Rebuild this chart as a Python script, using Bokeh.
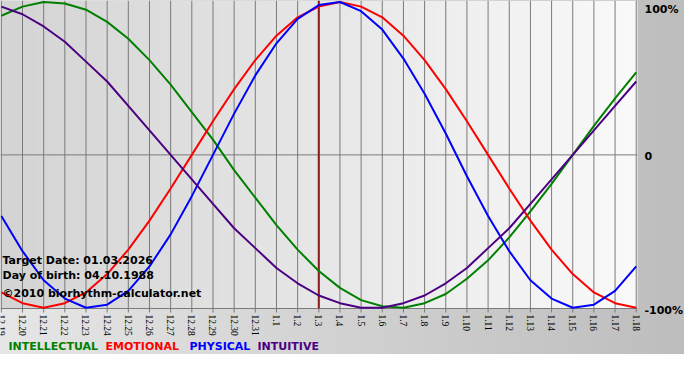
import math
import numpy as np
from bokeh.plotting import figure
from bokeh.models import Label, LabelSet, Range1d, ColumnDataSource
from bokeh.embed import file_html
from bokeh.resources import INLINE

# ---- data ----
day_labels = ["12.19", "12.20", "12.21", "12.22", "12.23", "12.24", "12.25", "12.26",
              "12.27", "12.28", "12.29", "12.30", "12.31", "1.1", "1.2", "1.3", "1.4",
              "1.5", "1.6", "1.7", "1.8", "1.9", "1.10", "1.11", "1.12", "1.13", "1.14",
              "1.15", "1.16", "1.17", "1.18"]

intellectual = [0.91, 0.97, 1.00, 0.99, 0.95, 0.87, 0.76, 0.62, 0.46, 0.28, 0.10,
                -0.10, -0.28, -0.46, -0.62, -0.76, -0.87, -0.95, -0.99, -1.00, -0.97,
                -0.91, -0.81, -0.69, -0.54, -0.37, -0.19, 0.00, 0.19, 0.37, 0.54]
emotional = [-0.90, -0.97, -1.00, -0.97, -0.90, -0.78, -0.62, -0.43, -0.22, 0.00, 0.22,
             0.43, 0.62, 0.78, 0.90, 0.97, 1.00, 0.97, 0.90, 0.78, 0.62,
             0.43, 0.22, 0.00, -0.22, -0.43, -0.62, -0.78, -0.90, -0.97, -1.00]
physical = [-0.40, -0.63, -0.82, -0.94, -1.00, -0.98, -0.89, -0.73, -0.52, -0.27, 0.00,
            0.27, 0.52, 0.73, 0.89, 0.98, 1.00, 0.94, 0.82, 0.63, 0.40,
            0.14, -0.14, -0.40, -0.63, -0.82, -0.94, -1.00, -0.98, -0.89, -0.73]
intuitive = [0.97, 0.92, 0.84, 0.74, 0.61, 0.48, 0.32, 0.16, 0.00, -0.16, -0.32,
             -0.48, -0.61, -0.74, -0.84, -0.92, -0.97, -1.00, -1.00, -0.97, -0.92,
             -0.84, -0.74, -0.61, -0.48, -0.32, -0.16, 0.00, 0.16, 0.32, 0.48]

target_label = "1.3"
right_ticks = [1, 0, -1]
right_tick_labels = ["100%", "0", "-100%"]
legend_names = ["INTELLECTUAL", "EMOTIONAL", "PHYSICAL", "INTUITIVE"]
info_lines = ["Target Date: 01.03.2026", "Day of birth: 04.10.1988",
              "\u00a92010 biorhythm-calculator.net"]

# ---- styles / layout (pixels) ----
series = [intellectual, emotional, physical, intuitive]
colors = ["#008000", "#ff0000", "#0000ff", "#4b0082"]
grid_color = "#7a7a7a"
legend_x = [8, 105, 189, 257]
legend_y = 18
info_y = [104, 89, 71]
right_x = 644
right_offsets = [-7, -1, -3]
FONT = "DejaVu Sans"
W, H = 684, 364          # canvas
PLOT_W, PLOT_H = 637, 308  # plot area at top-left of canvas

x = list(range(len(day_labels)))
x0, x1 = -0.04, len(day_labels) - 1 + 0.06
y0, y1 = -1.005, 1.01
xs = PLOT_W / (x1 - x0)   # px per day
ys = PLOT_H / (y1 - y0)   # px per unit

p = figure(width=W, height=H,
           x_range=Range1d(x0, x0 + W / xs), y_range=Range1d(y1 - H / ys, y1),
           output_backend="svg", toolbar_location=None,
           x_axis_location=None, y_axis_location=None,
           min_border=0,
           styles={"background": "linear-gradient(to bottom, rgba(255,255,255,0) 354px, "
                                 "#ffffff 354px), linear-gradient(to right, #e6e6e6, #bdbdbd)"})
p.border_fill_color = None
p.background_fill_color = None
p.outline_line_color = None
p.xgrid.visible = False
p.ygrid.visible = False

# plot-area gradient background
cols = 256
shade = np.linspace(212, 250, cols).astype(np.uint32)
img = np.empty((1, cols), dtype=np.uint32)
view = img.view(dtype=np.uint8).reshape((1, cols, 4))
view[..., 0] = shade
view[..., 1] = shade
view[..., 2] = shade
view[..., 3] = 255
p.image_rgba(image=[img], x=x0, y=y0, dw=x1 - x0, dh=y1 - y0, level="image")

# vertical day grid lines (extend 4px below as ticks)
tick_len = 4 / ys
n = len(x)
p.segment(x0=x, x1=x, y0=[y0 - tick_len] * n, y1=[y1] * n,
          line_color=grid_color, line_width=1)
# zero line and bottom line
p.segment(x0=[x0, x0], x1=[x1, x1], y0=[0, y0], y1=[0, y0],
          line_color=grid_color, line_width=1)

# target date marker
tx = day_labels.index(target_label)
p.segment(x0=[tx], x1=[tx], y0=[y0], y1=[y1], line_color="#8b1a1a", line_width=2)

# curves
for s, c in zip(series, colors):
    p.line(x, s, line_color=c, line_width=2)

# x tick labels (vertical)
src = ColumnDataSource(dict(x=x, text=day_labels))
p.add_layout(LabelSet(x="x", y=y0 - (4 + 2) / ys, text="text", source=src,
                      angle=-math.pi / 2, text_align="left", text_baseline="middle",
                      text_font="Liberation Sans",
                      text_font_size="9.5px", text_color="#000000"))

# right labels
for t, lab, off in zip(right_ticks, right_tick_labels, right_offsets):
    p.add_layout(Label(x=right_x, x_units="screen", y=t, y_units="data", y_offset=off,
                       text=lab, text_font=FONT, text_font_size="11px",
                       text_font_style="bold", text_color="#000000",
                       text_baseline="middle"))

# info text
for line, yy in zip(info_lines, info_y):
    p.add_layout(Label(x=2, y=yy, x_units="screen", y_units="screen", text=line,
                       text_font=FONT, text_font_size="11px", text_font_style="bold",
                       text_color="#000000", text_baseline="middle"))

# legend
for name, c, lx in zip(legend_names, colors, legend_x):
    p.add_layout(Label(x=lx, y=legend_y, x_units="screen", y_units="screen", text=name,
                       text_font=FONT, text_font_size="11px", text_font_style="bold",
                       text_color=c, text_baseline="middle"))

open("out.html", "w").write(file_html(p, INLINE))
